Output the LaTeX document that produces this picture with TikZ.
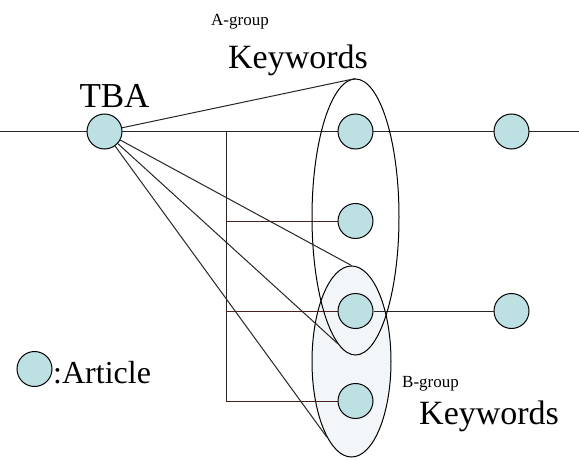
\documentclass[tikz,border=0pt]{standalone}
\usepackage{fontspec}
\setmainfont{Liberation Serif}
\usetikzlibrary{shapes.geometric,backgrounds}
\definecolor{article}{HTML}{BDE0E3}
\definecolor{groupfill}{HTML}{F3F6F8}
\definecolor{branch}{HTML}{4A2020}
\begin{document}
\begin{tikzpicture}[x=1pt,y=-1pt,
  article/.style={circle,draw,line width=1pt,fill=article,minimum size=35pt,inner sep=0pt},
  grp/.style={ellipse,draw,line width=1pt,inner sep=0pt},
  wire/.style={line width=1pt,draw=black!85},
  branchline/.style={line width=1pt,draw=branch},
  lbl/.style={inner sep=0pt,anchor=base west}]
\useasboundingbox (0,0) rectangle (579,460);

% articles
\node[article] (tba) at (104.5,131.5) {};
\node[article] (a1) at (355.5,131.5) {};
\node[article] (a2) at (355.5,221) {};
\node[article] (a3) at (355.5,311) {};
\node[article] (a4) at (355.5,401) {};
\node[article] (r1) at (511.5,131.5) {};
\node[article] (r3) at (511.5,311) {};
\node[article] (legend) at (34.5,369) {};

\coordinate (west) at (0,131.5);
\coordinate (east) at (579,131.5);
\coordinate (bt) at (226,131.5);
\coordinate (bb) at (226,401);

\begin{scope}[on background layer]
  % keyword groups
  \node[grp,fill=groupfill,minimum width=79pt,minimum height=191pt] (ellB) at (351.5,361.5) {};
  % citation timeline and branches
  \draw[wire] (west) -- (east);
  \draw[wire] (bt) -- (bb);
  \draw[branchline] (bt |- a2) -- (a2);
  \draw[branchline] (bt |- a3) -- (a3);
  \draw[wire] (a3) -- (r3);
  \draw[branchline] (bb) -- (a4);
  \node[grp,minimum width=87pt,minimum height=276pt] (ellA) at (355.5,217) {};
  % links from TBA to the keyword groups
  \draw[wire] (tba) -- (ellA.north);
  \draw[wire] (tba) -- (ellB.north);
  \draw[wire] (tba) -- (ellA.262);
  \draw[wire] (tba) -- (ellB.252);
\end{scope}

% labels
\node[inner sep=0pt,anchor=base,font=\fontsize{35}{40}\selectfont] (tbalabel) at (114.5,107) {TBA};
\node[lbl,font=\fontsize{17}{20}\selectfont] (agroup) at (211,26) {A-group};
\node[lbl,font=\fontsize{34}{40}\selectfont] (akw) at (228,69) {Keywords};
\node[lbl,font=\fontsize{17}{20}\selectfont] (bgroup) at (402,387) {B-group};
\node[lbl,font=\fontsize{34}{40}\selectfont] (bkw) at (419,424) {Keywords};
\node[lbl,font=\fontsize{32}{38}\selectfont] (legendtext) at (53,383) {:Article};
\end{tikzpicture}
\end{document}
